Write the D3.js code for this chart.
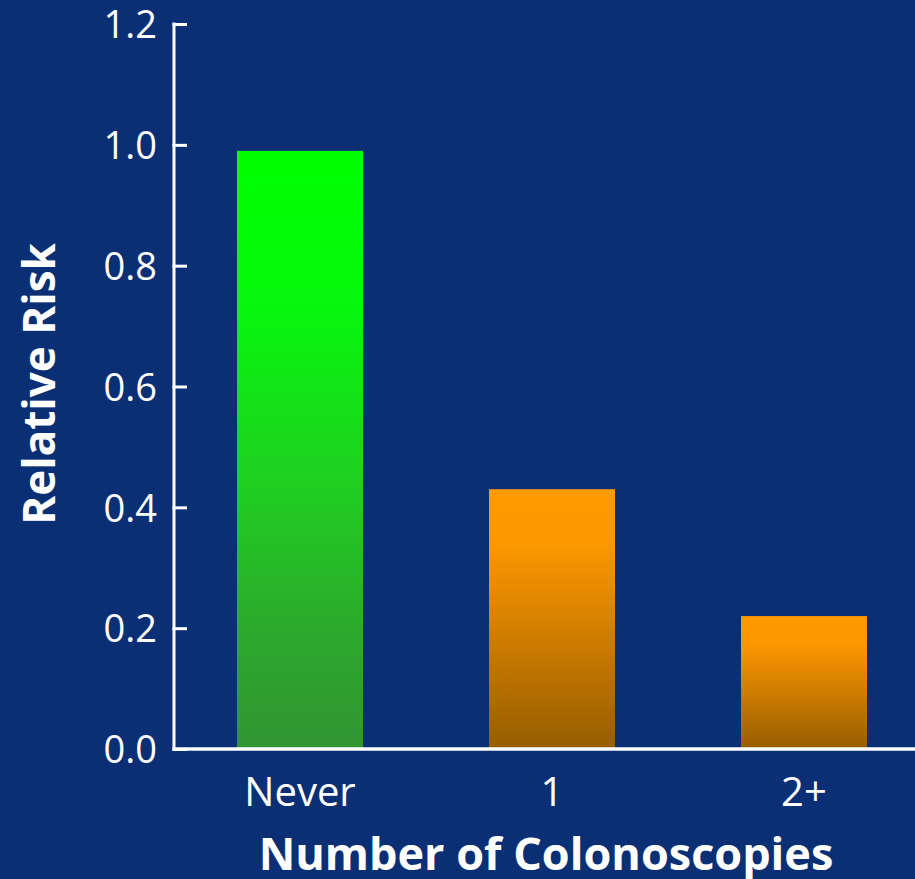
<!DOCTYPE html>
<html>
<head>
<meta charset="utf-8">
<script src="https://cdn.jsdelivr.net/npm/d3@7"></script>
<style>
  html, body { margin: 0; padding: 0; background: #0b2f75; }
  svg { display: block; }
</style>
</head>
<body>
<svg id="chart" width="915" height="879"></svg>
<script>
// Relative risk by number of colonoscopies
const categories = ["Never", "1", "2+"];
const riskValues = [0.99, 0.43, 0.22];
const yTicks = [0, 0.2, 0.4, 0.6, 0.8, 1.0, 1.2];
const yTickLabels = ["0.0", "0.2", "0.4", "0.6", "0.8", "1.0", "1.2"];
const barPalette = ["green", "orange", "orange"];

const svg = d3.select("#chart");
const W = 915, H = 879;
const font = "'Open Sans', 'Noto Sans', sans-serif";

svg.append("rect").attr("width", W).attr("height", H).attr("fill", "#0b2f75");

const x = d3.scaleBand()
  .domain(categories)
  .range([173, 931])
  .paddingInner(0.5)
  .paddingOuter(0.254);

const y = d3.scaleLinear().domain([0, 1.2]).range([749, 24]);

// vertical gradients for the bars
const defs = svg.append("defs");
const gradients = {
  green: [[0, "#00ff00"], [0.25, "#06f80c"], [0.55, "#1fd021"], [0.8, "#2ca92d"], [1, "#329532"]],
  orange: [[0, "#ff9a00"], [0.2, "#fd9800"], [0.55, "#d17e00"], [1, "#955e00"]]
};
Object.entries(gradients).forEach(([name, stops]) => {
  const g = defs.append("linearGradient")
    .attr("id", "grad-" + name)
    .attr("x1", 0).attr("y1", 0).attr("x2", 0).attr("y2", 1);
  stops.forEach(([o, c]) => g.append("stop").attr("offset", o).attr("stop-color", c));
});

// bars
svg.append("g").selectAll("rect")
  .data(categories)
  .join("rect")
  .attr("x", d => x(d))
  .attr("width", x.bandwidth())
  .attr("y", (d, i) => y(riskValues[i]))
  .attr("height", (d, i) => y(0) - y(riskValues[i]))
  .attr("fill", (d, i) => `url(#grad-${barPalette[i]})`);

// y axis
const yAxis = d3.axisRight(y)
  .tickValues(yTicks)
  .tickFormat((d, i) => yTickLabels[i])
  .tickSize(13)
  .tickSizeOuter(0);

const gy = svg.append("g").attr("transform", "translate(174,0)").call(yAxis);
gy.select(".domain").attr("stroke", "#fff").attr("stroke-width", 3)
  .attr("d", `M0,${y(1.2) - 1.5}V${y(0)}`);
gy.selectAll(".tick line").attr("stroke", "#fff").attr("stroke-width", 3)
  .attr("x1", -1.5);
gy.selectAll(".tick text")
  .attr("x", -17)
  .attr("dy", "0.36em")
  .attr("text-anchor", "end")
  .attr("fill", "#fff")
  .style("font-family", font)
  .style("font-size", "38px");

// x axis
const xAxis = d3.axisBottom(x).tickSize(0).tickSizeOuter(0);
const gx = svg.append("g").attr("transform", `translate(0,${y(0)})`).call(xAxis);
gx.select(".domain").attr("stroke", "#fff").attr("stroke-width", 3.5)
  .attr("d", `M172.5,0H${W}`);
gx.selectAll(".tick text")
  .attr("y", 57)
  .attr("dy", 0)
  .attr("fill", "#fff")
  .style("font-family", font)
  .style("font-size", "40px");

// axis titles
svg.append("text")
  .attr("x", 546)
  .attr("y", 870)
  .attr("text-anchor", "middle")
  .attr("fill", "#fff")
  .style("font-family", font)
  .style("font-weight", "700")
  .style("font-size", "45px")
  .text("Number of Colonoscopies");

svg.append("text")
  .attr("transform", "translate(55,384) rotate(-90)")
  .attr("text-anchor", "middle")
  .attr("fill", "#fff")
  .style("font-family", font)
  .style("font-weight", "700")
  .style("font-size", "44px")
  .text("Relative Risk");
</script>
</body>
</html>
